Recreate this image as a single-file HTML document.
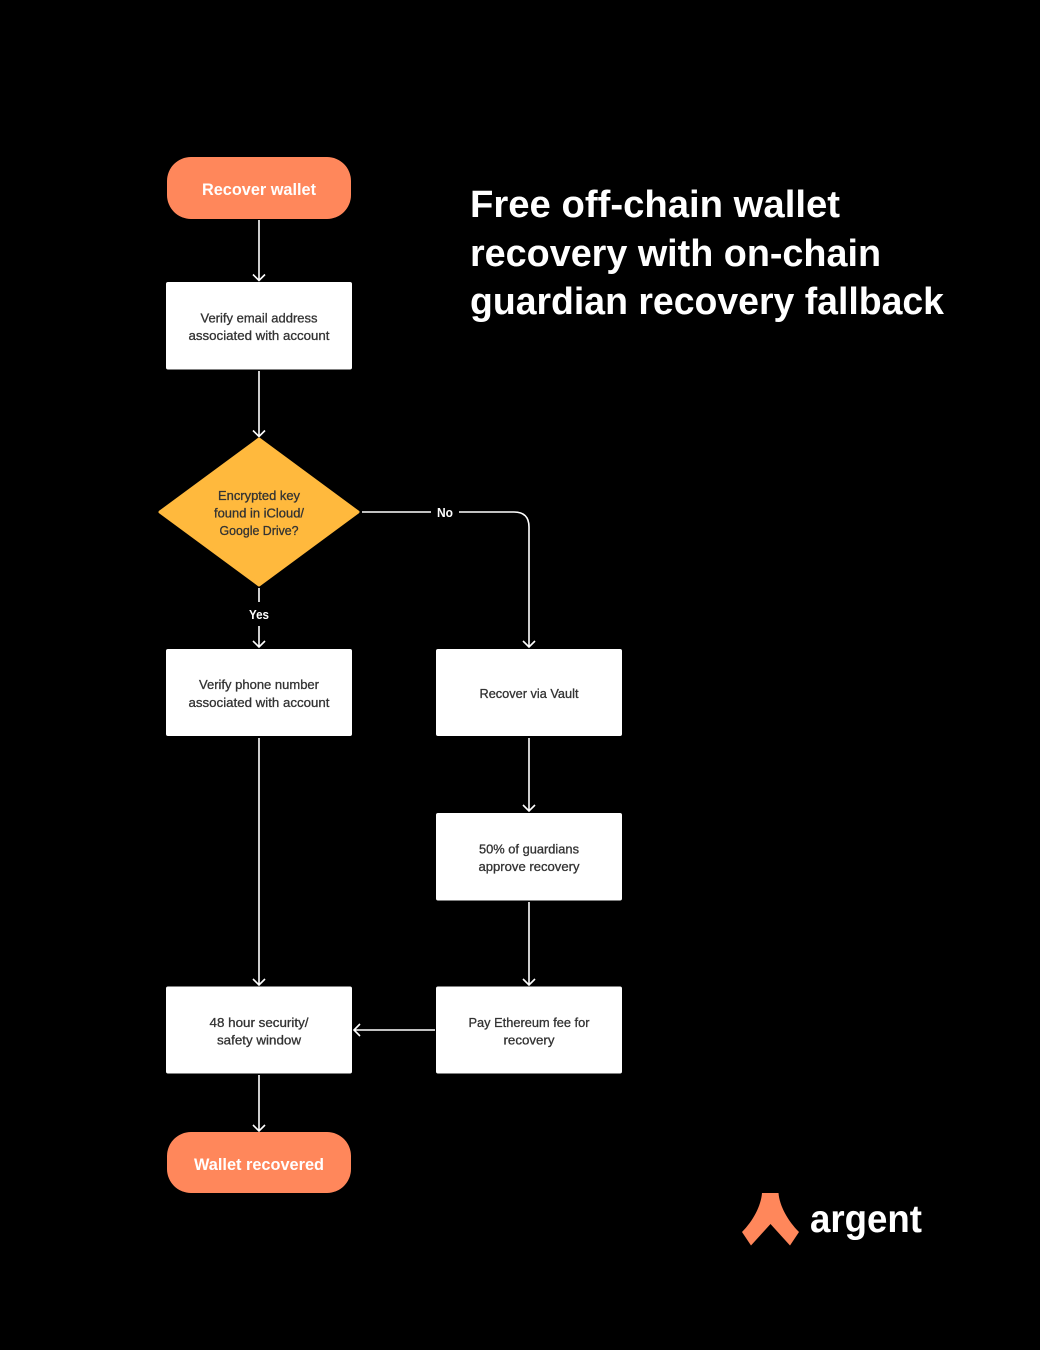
<!DOCTYPE html>
<html>
<head>
<meta charset="utf-8">
<style>
html,body{margin:0;padding:0;background:#000}
svg{display:block}
text{font-family:"Liberation Sans",sans-serif}
.b{font-size:13px;fill:#333;text-anchor:middle;stroke:#333;stroke-width:.3}
.l{font-size:12.500px;fill:#fff;text-anchor:middle;font-weight:bold}
.p{font-size:17px;fill:#fff;text-anchor:middle;font-weight:bold}
.t{font-size:38px;fill:#fff;font-weight:bold}
.c{fill:none;stroke:#fff;stroke-width:1.600}
</style>
</head>
<body>
<svg width="1040" height="1350" viewBox="0 0 1040 1350" xmlns="http://www.w3.org/2000/svg">
<rect width="1040" height="1350" fill="#000"/>

<!-- Title -->
<text class="t" x="470" y="217" textLength="370" lengthAdjust="spacingAndGlyphs">Free off-chain wallet</text>
<text class="t" x="470" y="266" textLength="411" lengthAdjust="spacingAndGlyphs">recovery with on-chain</text>
<text class="t" x="470" y="314" textLength="474" lengthAdjust="spacingAndGlyphs">guardian recovery fallback</text>

<!-- Connectors -->
<path class="c" d="M259 220V280M253 274.500L259 280.500L265 274.500"/>
<path class="c" d="M259 371V436M253 430.500L259 436.500L265 430.500"/>
<path class="c" d="M259 588V602M259 626V647M253 641L259 647L265 641"/>
<path class="c" d="M259 738V985M253 979L259 985L265 979"/>
<path class="c" d="M259 1075V1131M253 1125L259 1131L265 1125"/>
<path class="c" d="M362 512H431M459 512H514Q529 512 529 527V647M523 641L529 647L535 641"/>
<path class="c" d="M529 738V811M523 805L529 811L535 805"/>
<path class="c" d="M529 902V985M523 979L529 985L535 979"/>
<path class="c" d="M435 1030H354M360 1024L354 1030L360 1036"/>

<!-- Terminals -->
<rect x="167" y="157" width="184" height="62" rx="24" fill="#ff875b"/>
<text class="p" x="259" y="195" textLength="114" lengthAdjust="spacingAndGlyphs">Recover wallet</text>
<rect x="167" y="1132" width="184" height="61" rx="24" fill="#ff875b"/>
<text class="p" x="259" y="1170" textLength="130" lengthAdjust="spacingAndGlyphs">Wallet recovered</text>

<!-- Boxes -->
<rect x="166" y="282" width="186" height="87.500" rx="2" fill="#fff"/>
<text class="b" x="259" y="322.500" textLength="117" lengthAdjust="spacingAndGlyphs">Verify email address</text>
<text class="b" x="259" y="340" textLength="141" lengthAdjust="spacingAndGlyphs">associated with account</text>

<rect x="166" y="649" width="186" height="87" rx="2" fill="#fff"/>
<text class="b" x="259" y="689" textLength="120" lengthAdjust="spacingAndGlyphs">Verify phone number</text>
<text class="b" x="259" y="707" textLength="141" lengthAdjust="spacingAndGlyphs">associated with account</text>

<rect x="436" y="649" width="186" height="87" rx="2" fill="#fff"/>
<text class="b" x="529" y="698" textLength="99" lengthAdjust="spacingAndGlyphs">Recover via Vault</text>

<rect x="436" y="813" width="186" height="87.500" rx="2" fill="#fff"/>
<text class="b" x="529" y="853.500" textLength="100" lengthAdjust="spacingAndGlyphs">50% of guardians</text>
<text class="b" x="529" y="871" textLength="101" lengthAdjust="spacingAndGlyphs">approve recovery</text>

<rect x="436" y="986.500" width="186" height="87" rx="2" fill="#fff"/>
<text class="b" x="529" y="1027" textLength="121" lengthAdjust="spacingAndGlyphs">Pay Ethereum fee for</text>
<text class="b" x="529" y="1044.500" textLength="51" lengthAdjust="spacingAndGlyphs">recovery</text>

<rect x="166" y="986.500" width="186" height="87" rx="2" fill="#fff"/>
<text class="b" x="259" y="1027" textLength="99" lengthAdjust="spacingAndGlyphs">48 hour security/</text>
<text class="b" x="259" y="1044.500" textLength="84" lengthAdjust="spacingAndGlyphs">safety window</text>

<!-- Diamond -->
<path d="M259 439L358 512L259 585L160 512Z" fill="#ffb93d" stroke="#ffb93d" stroke-width="3" stroke-linejoin="round"/>
<text class="b" x="259" y="500" textLength="82" lengthAdjust="spacingAndGlyphs">Encrypted key</text>
<text class="b" x="259" y="517.500" textLength="90" lengthAdjust="spacingAndGlyphs">found in iCloud/</text>
<text class="b" x="259" y="535" textLength="79" lengthAdjust="spacingAndGlyphs">Google Drive?</text>

<!-- Labels -->
<text class="l" x="445" y="517" textLength="16" lengthAdjust="spacingAndGlyphs">No</text>
<text class="l" x="259" y="619" textLength="20" lengthAdjust="spacingAndGlyphs">Yes</text>

<!-- Logo -->
<path d="M762 1193H778.500C779.500 1206 788 1221 799 1232L790 1245.500L770.500 1224L751 1245.500L742 1232C753 1221 761 1206 762 1193Z" fill="#ff875b"/>
<text x="810" y="1232" font-size="39" font-weight="bold" fill="#fff" textLength="112" lengthAdjust="spacingAndGlyphs">argent</text>
</svg>
</body>
</html>
